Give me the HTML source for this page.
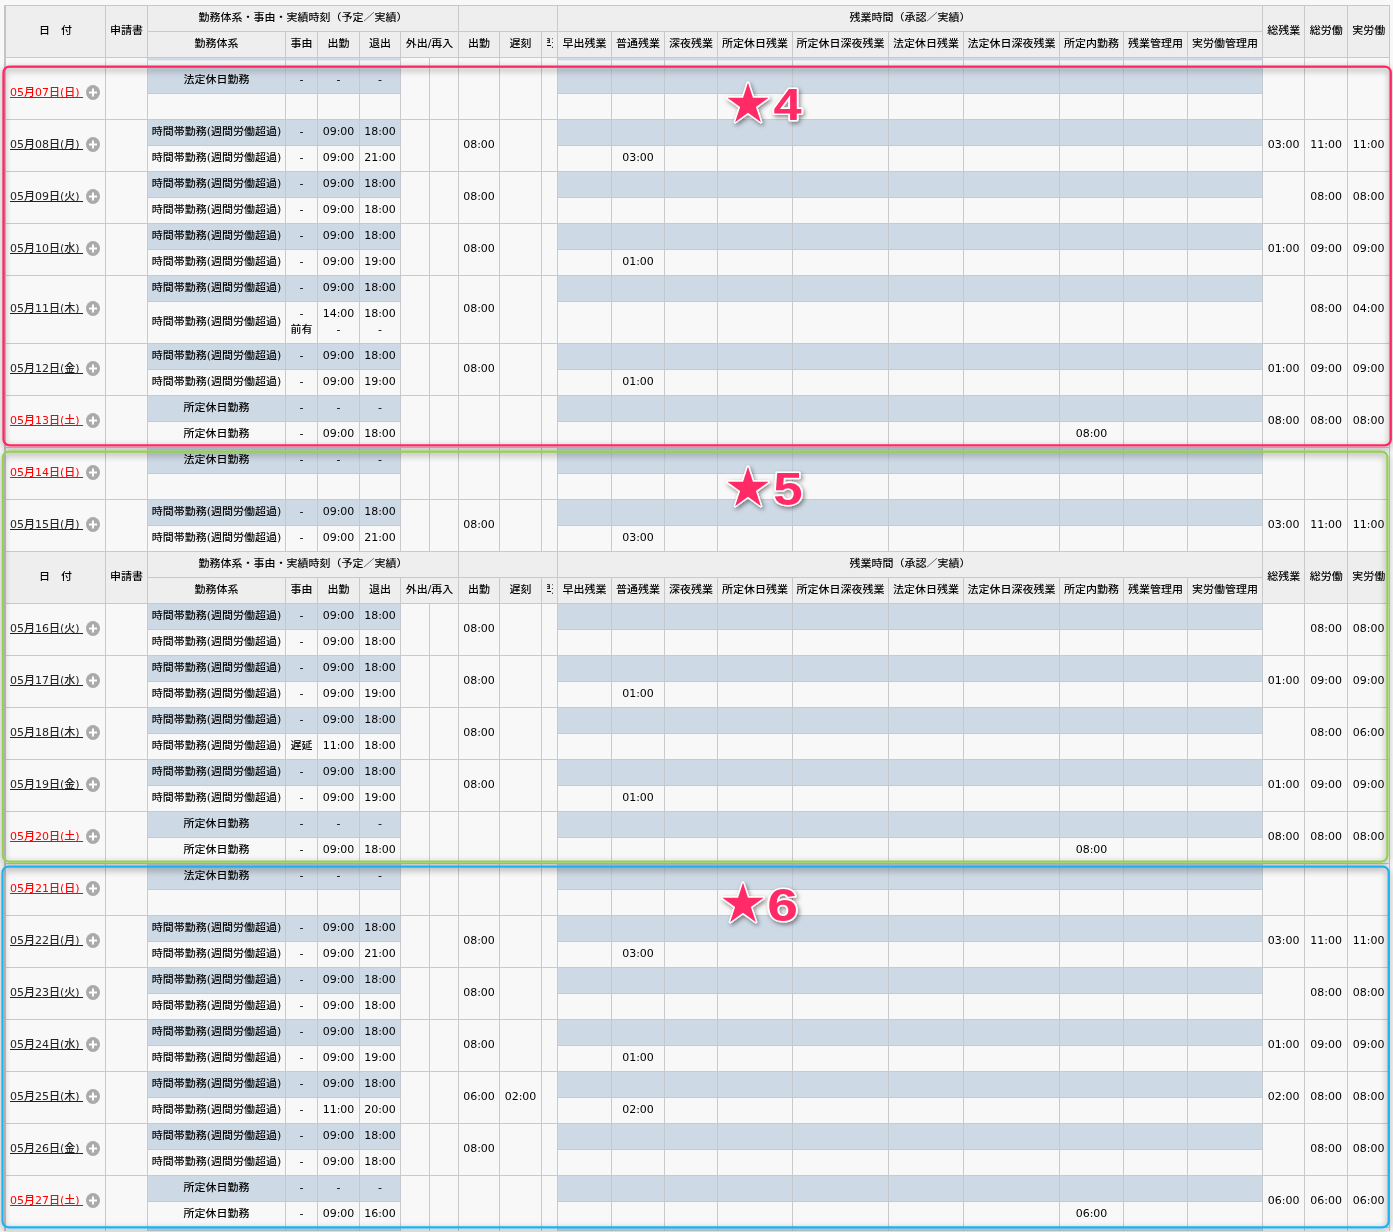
<!DOCTYPE html>
<html lang="ja"><head><meta charset="utf-8"><title>勤務表</title>
<style>
*{box-sizing:border-box;margin:0;padding:0}
html,body{width:1393px;height:1232px;overflow:hidden;background:#f8f8f8}
body{position:relative;font-family:"DejaVu Sans","Liberation Sans","Noto Sans CJK JP",sans-serif;font-size:11px;color:#000}
table{position:absolute;left:4px;top:5px;border-collapse:separate;border-spacing:0;table-layout:fixed;width:1386px;border-left:2px solid #c4c4c4;border-top:1px solid #c8c8c8}
td,th{border-right:1px solid #c9c9c9;border-bottom:1px solid #c9c9c9;text-align:center;vertical-align:middle;font-weight:normal;white-space:nowrap;overflow:hidden;background:#f8f8f8;line-height:16px;padding:0 0 2px}
th{background:#eee}
tr.h{height:26px}
tr.a{height:26px}
tr.t{height:42px}
tr.p{height:10px}
tr.z{height:3px}
tr.z td{border-bottom:0}
td.b{background:#cdd9e5;border-right-color:#c3c9cf}
td.pb{background:linear-gradient(#cdd9e5 0,#cdd9e5 2px,#f8f8f8 3px)}
td.d{text-align:left;padding-left:4px}
td.d a{font-weight:500;text-decoration:underline;text-decoration-skip-ink:none;color:#222;vertical-align:middle;position:relative;top:.5px}
td.d a.r{color:#f00}
td.d i{display:inline-block;width:14px;height:15px;border-radius:50%;background:#aaa;vertical-align:middle;margin-left:3px;position:relative}
td.d i:before{content:"";position:absolute;left:3px;top:6px;width:8px;height:2px;background:#fff;transform:translateY(.5px)}
td.d i:after{content:"";position:absolute;left:6px;top:3px;width:2px;height:8px;background:#fff;transform:translateY(.5px)}
th.cut span{font-weight:500;transform:translateY(.5px) scaleY(.9);display:block;width:6px;margin:0 auto;overflow:hidden;white-space:nowrap;text-indent:-6px;text-align:left}
b{font-weight:500;display:inline-block;transform:scaleY(.9)}
.ov{position:absolute;left:0;top:0;pointer-events:none}
</style></head>
<body>
<table>
<colgroup><col style="width:100px"><col style="width:42px"><col style="width:138px"><col style="width:32px"><col style="width:42px"><col style="width:41px"><col style="width:29px"><col style="width:29px"><col style="width:41px"><col style="width:42px"><col style="width:16px"><col style="width:54px"><col style="width:53px"><col style="width:53px"><col style="width:75px"><col style="width:96px"><col style="width:75px"><col style="width:96px"><col style="width:64px"><col style="width:64px"><col style="width:75px"><col style="width:42px"><col style="width:43px"><col style="width:42px"></colgroup>
<tr class="h"><th rowspan="2"><b>日　付</b></th><th rowspan="2"><b>申請書</b></th><th colspan="6"><b>勤務体系・事由・実績時刻（予定／実績）</b></th><th colspan="3"></th><th colspan="10"><b>残業時間（承認／実績）</b></th><th rowspan="2"><b>総残業</b></th><th rowspan="2"><b>総労働</b></th><th rowspan="2"><b>実労働</b></th></tr>
<tr class="h"><th><b>勤務体系</b></th><th><b>事由</b></th><th><b>出勤</b></th><th><b>退出</b></th><th colspan="2"><b>外出/再入</b></th><th><b>出勤</b></th><th><b>遅刻</b></th><th class="cut"><span>早退</span></th><th><b>早出残業</b></th><th><b>普通残業</b></th><th><b>深夜残業</b></th><th><b>所定休日残業</b></th><th><b>所定休日深夜残業</b></th><th><b>法定休日残業</b></th><th><b>法定休日深夜残業</b></th><th><b>所定内勤務</b></th><th><b>残業管理用</b></th><th><b>実労働管理用</b></th></tr>
<tr class="p"><td></td><td></td><td class="pb"></td><td class="pb"></td><td class="pb"></td><td class="pb"></td><td></td><td></td><td></td><td></td><td></td><td class="pb"></td><td class="pb"></td><td class="pb"></td><td class="pb"></td><td class="pb"></td><td class="pb"></td><td class="pb"></td><td class="pb"></td><td class="pb"></td><td class="pb"></td><td></td><td></td><td></td></tr>
<tr class="a"><td rowspan="2" class="d"><a class="r">05月07日(日)&nbsp;</a><i></i></td><td rowspan="2"></td><td class="b"><b>法定休日勤務</b></td><td class="b">-</td><td class="b">-</td><td class="b">-</td><td rowspan="2"></td><td rowspan="2"></td><td rowspan="2"></td><td rowspan="2"></td><td rowspan="2"></td><td class="b"></td><td class="b"></td><td class="b"></td><td class="b"></td><td class="b"></td><td class="b"></td><td class="b"></td><td class="b"></td><td class="b"></td><td class="b"></td><td rowspan="2"></td><td rowspan="2"></td><td rowspan="2"></td></tr>
<tr class="a"><td></td><td></td><td></td><td></td><td></td><td></td><td></td><td></td><td></td><td></td><td></td><td></td><td></td><td></td></tr>
<tr class="a"><td rowspan="2" class="d"><a>05月08日(月)&nbsp;</a><i></i></td><td rowspan="2"></td><td class="b"><b>時間帯勤務(週間労働超過)</b></td><td class="b">-</td><td class="b">09:00</td><td class="b">18:00</td><td rowspan="2"></td><td rowspan="2"></td><td rowspan="2">08:00</td><td rowspan="2"></td><td rowspan="2"></td><td class="b"></td><td class="b"></td><td class="b"></td><td class="b"></td><td class="b"></td><td class="b"></td><td class="b"></td><td class="b"></td><td class="b"></td><td class="b"></td><td rowspan="2">03:00</td><td rowspan="2">11:00</td><td rowspan="2">11:00</td></tr>
<tr class="a"><td><b>時間帯勤務(週間労働超過)</b></td><td>-</td><td>09:00</td><td>21:00</td><td></td><td>03:00</td><td></td><td></td><td></td><td></td><td></td><td></td><td></td><td></td></tr>
<tr class="a"><td rowspan="2" class="d"><a>05月09日(火)&nbsp;</a><i></i></td><td rowspan="2"></td><td class="b"><b>時間帯勤務(週間労働超過)</b></td><td class="b">-</td><td class="b">09:00</td><td class="b">18:00</td><td rowspan="2"></td><td rowspan="2"></td><td rowspan="2">08:00</td><td rowspan="2"></td><td rowspan="2"></td><td class="b"></td><td class="b"></td><td class="b"></td><td class="b"></td><td class="b"></td><td class="b"></td><td class="b"></td><td class="b"></td><td class="b"></td><td class="b"></td><td rowspan="2"></td><td rowspan="2">08:00</td><td rowspan="2">08:00</td></tr>
<tr class="a"><td><b>時間帯勤務(週間労働超過)</b></td><td>-</td><td>09:00</td><td>18:00</td><td></td><td></td><td></td><td></td><td></td><td></td><td></td><td></td><td></td><td></td></tr>
<tr class="a"><td rowspan="2" class="d"><a>05月10日(水)&nbsp;</a><i></i></td><td rowspan="2"></td><td class="b"><b>時間帯勤務(週間労働超過)</b></td><td class="b">-</td><td class="b">09:00</td><td class="b">18:00</td><td rowspan="2"></td><td rowspan="2"></td><td rowspan="2">08:00</td><td rowspan="2"></td><td rowspan="2"></td><td class="b"></td><td class="b"></td><td class="b"></td><td class="b"></td><td class="b"></td><td class="b"></td><td class="b"></td><td class="b"></td><td class="b"></td><td class="b"></td><td rowspan="2">01:00</td><td rowspan="2">09:00</td><td rowspan="2">09:00</td></tr>
<tr class="a"><td><b>時間帯勤務(週間労働超過)</b></td><td>-</td><td>09:00</td><td>19:00</td><td></td><td>01:00</td><td></td><td></td><td></td><td></td><td></td><td></td><td></td><td></td></tr>
<tr class="a"><td rowspan="2" class="d"><a>05月11日(木)&nbsp;</a><i></i></td><td rowspan="2"></td><td class="b"><b>時間帯勤務(週間労働超過)</b></td><td class="b">-</td><td class="b">09:00</td><td class="b">18:00</td><td rowspan="2"></td><td rowspan="2"></td><td rowspan="2">08:00</td><td rowspan="2"></td><td rowspan="2"></td><td class="b"></td><td class="b"></td><td class="b"></td><td class="b"></td><td class="b"></td><td class="b"></td><td class="b"></td><td class="b"></td><td class="b"></td><td class="b"></td><td rowspan="2"></td><td rowspan="2">08:00</td><td rowspan="2">04:00</td></tr>
<tr class="t"><td><b>時間帯勤務(週間労働超過)</b></td><td>-<br><b>前有</b></td><td>14:00<br>-</td><td>18:00<br>-</td><td></td><td></td><td></td><td></td><td></td><td></td><td></td><td></td><td></td><td></td></tr>
<tr class="a"><td rowspan="2" class="d"><a>05月12日(金)&nbsp;</a><i></i></td><td rowspan="2"></td><td class="b"><b>時間帯勤務(週間労働超過)</b></td><td class="b">-</td><td class="b">09:00</td><td class="b">18:00</td><td rowspan="2"></td><td rowspan="2"></td><td rowspan="2">08:00</td><td rowspan="2"></td><td rowspan="2"></td><td class="b"></td><td class="b"></td><td class="b"></td><td class="b"></td><td class="b"></td><td class="b"></td><td class="b"></td><td class="b"></td><td class="b"></td><td class="b"></td><td rowspan="2">01:00</td><td rowspan="2">09:00</td><td rowspan="2">09:00</td></tr>
<tr class="a"><td><b>時間帯勤務(週間労働超過)</b></td><td>-</td><td>09:00</td><td>19:00</td><td></td><td>01:00</td><td></td><td></td><td></td><td></td><td></td><td></td><td></td><td></td></tr>
<tr class="a"><td rowspan="2" class="d"><a class="r">05月13日(土)&nbsp;</a><i></i></td><td rowspan="2"></td><td class="b"><b>所定休日勤務</b></td><td class="b">-</td><td class="b">-</td><td class="b">-</td><td rowspan="2"></td><td rowspan="2"></td><td rowspan="2"></td><td rowspan="2"></td><td rowspan="2"></td><td class="b"></td><td class="b"></td><td class="b"></td><td class="b"></td><td class="b"></td><td class="b"></td><td class="b"></td><td class="b"></td><td class="b"></td><td class="b"></td><td rowspan="2">08:00</td><td rowspan="2">08:00</td><td rowspan="2">08:00</td></tr>
<tr class="a"><td><b>所定休日勤務</b></td><td>-</td><td>09:00</td><td>18:00</td><td></td><td></td><td></td><td></td><td></td><td></td><td></td><td>08:00</td><td></td><td></td></tr>
<tr class="a"><td rowspan="2" class="d"><a class="r">05月14日(日)&nbsp;</a><i></i></td><td rowspan="2"></td><td class="b"><b>法定休日勤務</b></td><td class="b">-</td><td class="b">-</td><td class="b">-</td><td rowspan="2"></td><td rowspan="2"></td><td rowspan="2"></td><td rowspan="2"></td><td rowspan="2"></td><td class="b"></td><td class="b"></td><td class="b"></td><td class="b"></td><td class="b"></td><td class="b"></td><td class="b"></td><td class="b"></td><td class="b"></td><td class="b"></td><td rowspan="2"></td><td rowspan="2"></td><td rowspan="2"></td></tr>
<tr class="a"><td></td><td></td><td></td><td></td><td></td><td></td><td></td><td></td><td></td><td></td><td></td><td></td><td></td><td></td></tr>
<tr class="a"><td rowspan="2" class="d"><a>05月15日(月)&nbsp;</a><i></i></td><td rowspan="2"></td><td class="b"><b>時間帯勤務(週間労働超過)</b></td><td class="b">-</td><td class="b">09:00</td><td class="b">18:00</td><td rowspan="2"></td><td rowspan="2"></td><td rowspan="2">08:00</td><td rowspan="2"></td><td rowspan="2"></td><td class="b"></td><td class="b"></td><td class="b"></td><td class="b"></td><td class="b"></td><td class="b"></td><td class="b"></td><td class="b"></td><td class="b"></td><td class="b"></td><td rowspan="2">03:00</td><td rowspan="2">11:00</td><td rowspan="2">11:00</td></tr>
<tr class="a"><td><b>時間帯勤務(週間労働超過)</b></td><td>-</td><td>09:00</td><td>21:00</td><td></td><td>03:00</td><td></td><td></td><td></td><td></td><td></td><td></td><td></td><td></td></tr>
<tr class="h"><th rowspan="2"><b>日　付</b></th><th rowspan="2"><b>申請書</b></th><th colspan="6"><b>勤務体系・事由・実績時刻（予定／実績）</b></th><th colspan="3"></th><th colspan="10"><b>残業時間（承認／実績）</b></th><th rowspan="2"><b>総残業</b></th><th rowspan="2"><b>総労働</b></th><th rowspan="2"><b>実労働</b></th></tr>
<tr class="h"><th><b>勤務体系</b></th><th><b>事由</b></th><th><b>出勤</b></th><th><b>退出</b></th><th colspan="2"><b>外出/再入</b></th><th><b>出勤</b></th><th><b>遅刻</b></th><th class="cut"><span>早退</span></th><th><b>早出残業</b></th><th><b>普通残業</b></th><th><b>深夜残業</b></th><th><b>所定休日残業</b></th><th><b>所定休日深夜残業</b></th><th><b>法定休日残業</b></th><th><b>法定休日深夜残業</b></th><th><b>所定内勤務</b></th><th><b>残業管理用</b></th><th><b>実労働管理用</b></th></tr>
<tr class="a"><td rowspan="2" class="d"><a>05月16日(火)&nbsp;</a><i></i></td><td rowspan="2"></td><td class="b"><b>時間帯勤務(週間労働超過)</b></td><td class="b">-</td><td class="b">09:00</td><td class="b">18:00</td><td rowspan="2"></td><td rowspan="2"></td><td rowspan="2">08:00</td><td rowspan="2"></td><td rowspan="2"></td><td class="b"></td><td class="b"></td><td class="b"></td><td class="b"></td><td class="b"></td><td class="b"></td><td class="b"></td><td class="b"></td><td class="b"></td><td class="b"></td><td rowspan="2"></td><td rowspan="2">08:00</td><td rowspan="2">08:00</td></tr>
<tr class="a"><td><b>時間帯勤務(週間労働超過)</b></td><td>-</td><td>09:00</td><td>18:00</td><td></td><td></td><td></td><td></td><td></td><td></td><td></td><td></td><td></td><td></td></tr>
<tr class="a"><td rowspan="2" class="d"><a>05月17日(水)&nbsp;</a><i></i></td><td rowspan="2"></td><td class="b"><b>時間帯勤務(週間労働超過)</b></td><td class="b">-</td><td class="b">09:00</td><td class="b">18:00</td><td rowspan="2"></td><td rowspan="2"></td><td rowspan="2">08:00</td><td rowspan="2"></td><td rowspan="2"></td><td class="b"></td><td class="b"></td><td class="b"></td><td class="b"></td><td class="b"></td><td class="b"></td><td class="b"></td><td class="b"></td><td class="b"></td><td class="b"></td><td rowspan="2">01:00</td><td rowspan="2">09:00</td><td rowspan="2">09:00</td></tr>
<tr class="a"><td><b>時間帯勤務(週間労働超過)</b></td><td>-</td><td>09:00</td><td>19:00</td><td></td><td>01:00</td><td></td><td></td><td></td><td></td><td></td><td></td><td></td><td></td></tr>
<tr class="a"><td rowspan="2" class="d"><a>05月18日(木)&nbsp;</a><i></i></td><td rowspan="2"></td><td class="b"><b>時間帯勤務(週間労働超過)</b></td><td class="b">-</td><td class="b">09:00</td><td class="b">18:00</td><td rowspan="2"></td><td rowspan="2"></td><td rowspan="2">08:00</td><td rowspan="2"></td><td rowspan="2"></td><td class="b"></td><td class="b"></td><td class="b"></td><td class="b"></td><td class="b"></td><td class="b"></td><td class="b"></td><td class="b"></td><td class="b"></td><td class="b"></td><td rowspan="2"></td><td rowspan="2">08:00</td><td rowspan="2">06:00</td></tr>
<tr class="a"><td><b>時間帯勤務(週間労働超過)</b></td><td><b>遅延</b></td><td>11:00</td><td>18:00</td><td></td><td></td><td></td><td></td><td></td><td></td><td></td><td></td><td></td><td></td></tr>
<tr class="a"><td rowspan="2" class="d"><a>05月19日(金)&nbsp;</a><i></i></td><td rowspan="2"></td><td class="b"><b>時間帯勤務(週間労働超過)</b></td><td class="b">-</td><td class="b">09:00</td><td class="b">18:00</td><td rowspan="2"></td><td rowspan="2"></td><td rowspan="2">08:00</td><td rowspan="2"></td><td rowspan="2"></td><td class="b"></td><td class="b"></td><td class="b"></td><td class="b"></td><td class="b"></td><td class="b"></td><td class="b"></td><td class="b"></td><td class="b"></td><td class="b"></td><td rowspan="2">01:00</td><td rowspan="2">09:00</td><td rowspan="2">09:00</td></tr>
<tr class="a"><td><b>時間帯勤務(週間労働超過)</b></td><td>-</td><td>09:00</td><td>19:00</td><td></td><td>01:00</td><td></td><td></td><td></td><td></td><td></td><td></td><td></td><td></td></tr>
<tr class="a"><td rowspan="2" class="d"><a class="r">05月20日(土)&nbsp;</a><i></i></td><td rowspan="2"></td><td class="b"><b>所定休日勤務</b></td><td class="b">-</td><td class="b">-</td><td class="b">-</td><td rowspan="2"></td><td rowspan="2"></td><td rowspan="2"></td><td rowspan="2"></td><td rowspan="2"></td><td class="b"></td><td class="b"></td><td class="b"></td><td class="b"></td><td class="b"></td><td class="b"></td><td class="b"></td><td class="b"></td><td class="b"></td><td class="b"></td><td rowspan="2">08:00</td><td rowspan="2">08:00</td><td rowspan="2">08:00</td></tr>
<tr class="a"><td><b>所定休日勤務</b></td><td>-</td><td>09:00</td><td>18:00</td><td></td><td></td><td></td><td></td><td></td><td></td><td></td><td>08:00</td><td></td><td></td></tr>
<tr class="a"><td rowspan="2" class="d"><a class="r">05月21日(日)&nbsp;</a><i></i></td><td rowspan="2"></td><td class="b"><b>法定休日勤務</b></td><td class="b">-</td><td class="b">-</td><td class="b">-</td><td rowspan="2"></td><td rowspan="2"></td><td rowspan="2"></td><td rowspan="2"></td><td rowspan="2"></td><td class="b"></td><td class="b"></td><td class="b"></td><td class="b"></td><td class="b"></td><td class="b"></td><td class="b"></td><td class="b"></td><td class="b"></td><td class="b"></td><td rowspan="2"></td><td rowspan="2"></td><td rowspan="2"></td></tr>
<tr class="a"><td></td><td></td><td></td><td></td><td></td><td></td><td></td><td></td><td></td><td></td><td></td><td></td><td></td><td></td></tr>
<tr class="a"><td rowspan="2" class="d"><a>05月22日(月)&nbsp;</a><i></i></td><td rowspan="2"></td><td class="b"><b>時間帯勤務(週間労働超過)</b></td><td class="b">-</td><td class="b">09:00</td><td class="b">18:00</td><td rowspan="2"></td><td rowspan="2"></td><td rowspan="2">08:00</td><td rowspan="2"></td><td rowspan="2"></td><td class="b"></td><td class="b"></td><td class="b"></td><td class="b"></td><td class="b"></td><td class="b"></td><td class="b"></td><td class="b"></td><td class="b"></td><td class="b"></td><td rowspan="2">03:00</td><td rowspan="2">11:00</td><td rowspan="2">11:00</td></tr>
<tr class="a"><td><b>時間帯勤務(週間労働超過)</b></td><td>-</td><td>09:00</td><td>21:00</td><td></td><td>03:00</td><td></td><td></td><td></td><td></td><td></td><td></td><td></td><td></td></tr>
<tr class="a"><td rowspan="2" class="d"><a>05月23日(火)&nbsp;</a><i></i></td><td rowspan="2"></td><td class="b"><b>時間帯勤務(週間労働超過)</b></td><td class="b">-</td><td class="b">09:00</td><td class="b">18:00</td><td rowspan="2"></td><td rowspan="2"></td><td rowspan="2">08:00</td><td rowspan="2"></td><td rowspan="2"></td><td class="b"></td><td class="b"></td><td class="b"></td><td class="b"></td><td class="b"></td><td class="b"></td><td class="b"></td><td class="b"></td><td class="b"></td><td class="b"></td><td rowspan="2"></td><td rowspan="2">08:00</td><td rowspan="2">08:00</td></tr>
<tr class="a"><td><b>時間帯勤務(週間労働超過)</b></td><td>-</td><td>09:00</td><td>18:00</td><td></td><td></td><td></td><td></td><td></td><td></td><td></td><td></td><td></td><td></td></tr>
<tr class="a"><td rowspan="2" class="d"><a>05月24日(水)&nbsp;</a><i></i></td><td rowspan="2"></td><td class="b"><b>時間帯勤務(週間労働超過)</b></td><td class="b">-</td><td class="b">09:00</td><td class="b">18:00</td><td rowspan="2"></td><td rowspan="2"></td><td rowspan="2">08:00</td><td rowspan="2"></td><td rowspan="2"></td><td class="b"></td><td class="b"></td><td class="b"></td><td class="b"></td><td class="b"></td><td class="b"></td><td class="b"></td><td class="b"></td><td class="b"></td><td class="b"></td><td rowspan="2">01:00</td><td rowspan="2">09:00</td><td rowspan="2">09:00</td></tr>
<tr class="a"><td><b>時間帯勤務(週間労働超過)</b></td><td>-</td><td>09:00</td><td>19:00</td><td></td><td>01:00</td><td></td><td></td><td></td><td></td><td></td><td></td><td></td><td></td></tr>
<tr class="a"><td rowspan="2" class="d"><a>05月25日(木)&nbsp;</a><i></i></td><td rowspan="2"></td><td class="b"><b>時間帯勤務(週間労働超過)</b></td><td class="b">-</td><td class="b">09:00</td><td class="b">18:00</td><td rowspan="2"></td><td rowspan="2"></td><td rowspan="2">06:00</td><td rowspan="2">02:00</td><td rowspan="2"></td><td class="b"></td><td class="b"></td><td class="b"></td><td class="b"></td><td class="b"></td><td class="b"></td><td class="b"></td><td class="b"></td><td class="b"></td><td class="b"></td><td rowspan="2">02:00</td><td rowspan="2">08:00</td><td rowspan="2">08:00</td></tr>
<tr class="a"><td><b>時間帯勤務(週間労働超過)</b></td><td>-</td><td>11:00</td><td>20:00</td><td></td><td>02:00</td><td></td><td></td><td></td><td></td><td></td><td></td><td></td><td></td></tr>
<tr class="a"><td rowspan="2" class="d"><a>05月26日(金)&nbsp;</a><i></i></td><td rowspan="2"></td><td class="b"><b>時間帯勤務(週間労働超過)</b></td><td class="b">-</td><td class="b">09:00</td><td class="b">18:00</td><td rowspan="2"></td><td rowspan="2"></td><td rowspan="2">08:00</td><td rowspan="2"></td><td rowspan="2"></td><td class="b"></td><td class="b"></td><td class="b"></td><td class="b"></td><td class="b"></td><td class="b"></td><td class="b"></td><td class="b"></td><td class="b"></td><td class="b"></td><td rowspan="2"></td><td rowspan="2">08:00</td><td rowspan="2">08:00</td></tr>
<tr class="a"><td><b>時間帯勤務(週間労働超過)</b></td><td>-</td><td>09:00</td><td>18:00</td><td></td><td></td><td></td><td></td><td></td><td></td><td></td><td></td><td></td><td></td></tr>
<tr class="a"><td rowspan="2" class="d"><a class="r">05月27日(土)&nbsp;</a><i></i></td><td rowspan="2"></td><td class="b"><b>所定休日勤務</b></td><td class="b">-</td><td class="b">-</td><td class="b">-</td><td rowspan="2"></td><td rowspan="2"></td><td rowspan="2"></td><td rowspan="2"></td><td rowspan="2"></td><td class="b"></td><td class="b"></td><td class="b"></td><td class="b"></td><td class="b"></td><td class="b"></td><td class="b"></td><td class="b"></td><td class="b"></td><td class="b"></td><td rowspan="2">06:00</td><td rowspan="2">06:00</td><td rowspan="2">06:00</td></tr>
<tr class="a"><td><b>所定休日勤務</b></td><td>-</td><td>09:00</td><td>16:00</td><td></td><td></td><td></td><td></td><td></td><td></td><td></td><td>06:00</td><td></td><td></td></tr>
<tr class="z"><td></td><td></td><td class="b"></td><td class="b"></td><td class="b"></td><td class="b"></td><td></td><td></td><td></td><td></td><td></td><td class="b"></td><td class="b"></td><td class="b"></td><td class="b"></td><td class="b"></td><td class="b"></td><td class="b"></td><td class="b"></td><td class="b"></td><td class="b"></td><td></td><td></td><td></td></tr>
</table>
<svg class="ov" width="1393" height="1232" viewBox="0 0 1393 1232"><defs><filter id="sh" filterUnits="userSpaceOnUse" x="-20" y="-20" width="1440" height="1280"><feDropShadow dx="0" dy="2.5" stdDeviation="3" flood-color="#000" flood-opacity=".48"/></filter><filter id="st" filterUnits="userSpaceOnUse" x="-20" y="-20" width="1440" height="1280"><feDropShadow dx="1.5" dy="2" stdDeviation="2" flood-color="#000" flood-opacity=".45"/></filter></defs>
<g fill="none" stroke-width="2.25" filter="url(#sh)"><rect x="3.5" y="66.5" width="1387.3" height="378.9" rx="6" ry="6" stroke="#ff2864"/><rect x="2.8" y="451.5" width="1384.6" height="410.0" rx="6" ry="6" stroke="#92d050"/><rect x="2.5" y="866.5" width="1386.2" height="360.8" rx="6" ry="6" stroke="#1ab2ee"/></g>
<g fill="#ff2a66" stroke="#fff" stroke-width="3" stroke-linejoin="round" paint-order="stroke" filter="url(#st)"><text x="726.0" y="119.3" font-family="Noto Sans CJK JP,sans-serif" font-size="44">★</text><text transform="translate(773.5 120.2) scale(1.15 1)" font-family="Liberation Sans,sans-serif" font-weight="bold" font-size="44">4</text><text x="726.0" y="503.3" font-family="Noto Sans CJK JP,sans-serif" font-size="44">★</text><text transform="translate(773.2 505.2) scale(1.15 1)" font-family="Liberation Sans,sans-serif" font-weight="bold" font-size="46">5</text><text x="721.0" y="919.3" font-family="Noto Sans CJK JP,sans-serif" font-size="44">★</text><text transform="translate(767.2 921.0) scale(1.20 1)" font-family="Liberation Sans,sans-serif" font-weight="bold" font-size="46">6</text></g></svg>
</body></html>
